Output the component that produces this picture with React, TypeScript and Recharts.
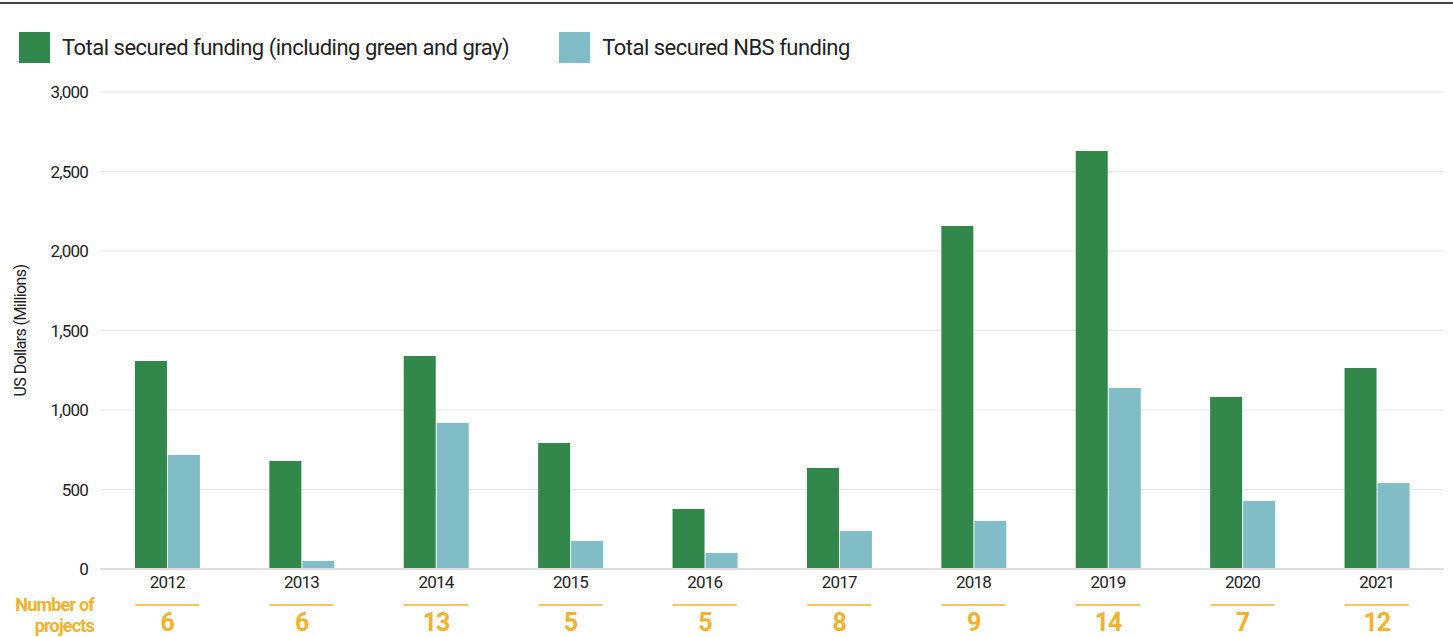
import { BarChart, Bar, XAxis, YAxis, CartesianGrid } from 'recharts';

const years = ['2012', '2013', '2014', '2015', '2016', '2017', '2018', '2019', '2020', '2021'];
const totalFunding = [1308, 679, 1340, 792, 377, 635, 2157, 2629, 1082, 1264];
const nbsFunding = [717, 50, 918, 176, 100, 239, 302, 1138, 428, 541];
const projectCounts = [6, 6, 13, 5, 5, 8, 9, 14, 7, 12];
const yTicks = [0, 500, 1000, 1500, 2000, 2500, 3000];

const GREEN = '#32874A';
const TEAL = '#80BDC7';
const ORANGE = '#F3B12B';
const FONT = 'Roboto, "Liberation Sans", sans-serif';

const chartData = years.map((year, i) => ({
    year,
    total: totalFunding[i],
    nbs: nbsFunding[i],
    projects: projectCounts[i],
}));

function YearTick(props: any) {
    const { x, y, payload, index } = props;
    return (
        <g>
            <text x={x} y={y + 11} textAnchor="middle" fontSize={17} fill="#222" fontFamily={FONT} letterSpacing={-0.8}>
                {payload.value}
            </text>
            <line x1={x - 32} x2={x + 32} y1={y + 28} y2={y + 28} stroke={ORANGE} strokeWidth={1.5} />
            <text x={x} y={y + 54} textAnchor="middle" fontSize={25} fontWeight={700} fill={ORANGE} fontFamily={FONT} letterSpacing={-1}>
                {projectCounts[index]}
            </text>
        </g>
    );
}

function LegendItem({ color, label }: { color: string; label: string }) {
    return (
        <div style={{ display: 'flex', alignItems: 'center', marginRight: 50 }}>
            <div style={{ width: 31, height: 31, background: color, marginRight: 12 }} />
            <span style={{ fontSize: 22, color: '#222', letterSpacing: -0.5 }}>{label}</span>
        </div>
    );
}

export default function App() {
    return (
        <div style={{ position: 'absolute', left: 0, top: 0, width: 1453, height: 637, background: '#fff', fontFamily: FONT }}>
            <div style={{ position: 'absolute', left: 0, top: 2, width: 1453, height: 2, background: '#444' }} />
            <div style={{ position: 'absolute', left: 19, top: 32, display: 'flex' }}>
                <LegendItem color={GREEN} label="Total secured funding (including green and gray)" />
                <LegendItem color={TEAL} label="Total secured NBS funding" />
            </div>
            <div
                style={{
                    position: 'absolute',
                    left: 0,
                    top: 594,
                    width: 94,
                    textAlign: 'right',
                    color: ORANGE,
                    fontWeight: 700,
                    fontSize: 18,
                    lineHeight: '21px',
                    letterSpacing: -0.8,
                }}
            >
                Number of
                <br />
                projects
            </div>
            <BarChart
                width={1453}
                height={637}
                data={chartData}
                margin={{ top: 92, right: 9, left: 0, bottom: 0 }}
                barCategoryGap="26%"
                barGap={1}
            >
                <CartesianGrid vertical={false} stroke="#e6e6e6" />
                <XAxis
                    dataKey="year"
                    height={68}
                    tickLine={false}
                    axisLine={{ stroke: '#dedede', strokeWidth: 2 }}
                    tick={<YearTick />}
                    interval={0}
                />
                <YAxis
                    width={100}
                    domain={[0, 3000]}
                    ticks={yTicks}
                    tickLine={false}
                    axisLine={false}
                    tickMargin={6}
                    tickFormatter={(v: number) => v.toLocaleString('en-US')}
                    tick={{ fontSize: 17, fill: '#222', fontFamily: FONT, letterSpacing: -0.8 }}
                    label={{
                        value: 'US Dollars (Millions)',
                        angle: -90,
                        position: 'insideLeft',
                        offset: 20,
                        style: { fontSize: 16, fill: '#222', fontFamily: FONT, textAnchor: 'middle', letterSpacing: -0.6 },
                    }}
                />
                <Bar dataKey="total" fill={GREEN} isAnimationActive={false} />
                <Bar dataKey="nbs" fill={TEAL} isAnimationActive={false} />
            </BarChart>
        </div>
    );
}
